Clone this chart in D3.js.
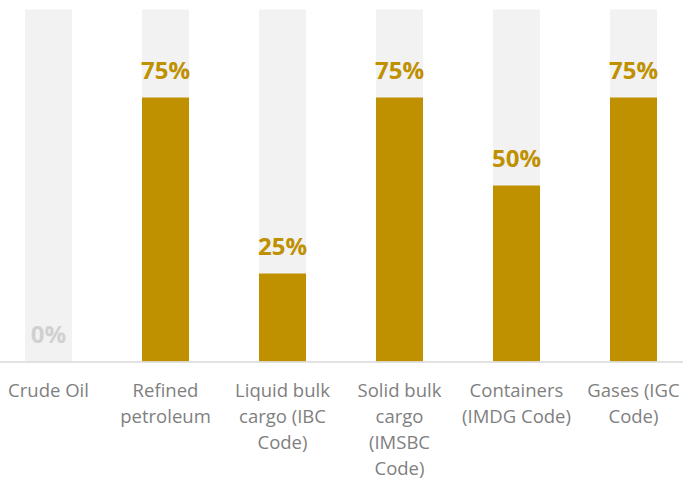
<!DOCTYPE html>
<html><head><meta charset="utf-8">
<script src="https://cdn.jsdelivr.net/npm/d3@7"></script>
<style>html,body{margin:0;padding:0;background:#fff;}svg{display:block;}</style>
</head><body>
<svg id="chart" width="683" height="482"></svg>
<script>
const categories = ["Crude Oil","Refined petroleum","Liquid bulk cargo (IBC Code)","Solid bulk cargo (IMSBC Code)","Containers (IMDG Code)","Gases (IGC Code)"];
const labelLines = [["Crude Oil"],["Refined","petroleum"],["Liquid bulk","cargo (IBC","Code)"],["Solid bulk","cargo","(IMSBC","Code)"],["Containers","(IMDG Code)"],["Gases (IGC","Code)"]];
const values = [0, 0.75, 0.25, 0.75, 0.5, 0.75];
const maxValues = [1, 1, 1, 1, 1, 1];

const svg = d3.select("#chart");
const x = d3.scaleBand().domain(categories).range([-10, 692]).paddingInner(0.598).paddingOuter(0.299);
const y = d3.scaleLinear().domain([0, 1]).range([361.5, 9.5]);

svg.selectAll("rect.bg").data(categories).join("rect").attr("class","bg")
  .attr("x", d => x(d)).attr("width", x.bandwidth())
  .attr("y", (d,i) => y(maxValues[i])).attr("height", (d,i) => y(0) - y(maxValues[i]))
  .attr("fill", "#f2f2f2");

svg.selectAll("rect.fg").data(categories).join("rect").attr("class","fg")
  .attr("x", d => x(d)).attr("width", x.bandwidth())
  .attr("y", (d,i) => y(values[i])).attr("height", (d,i) => y(0) - y(values[i]))
  .attr("fill", "#bf9000");

svg.append("line").attr("x1", 0).attr("x2", 683).attr("y1", y(0)+0.5).attr("y2", y(0)+0.5)
  .attr("stroke", "#d9d9d9").attr("stroke-width", 1.5);

svg.selectAll("text.val").data(categories).join("text").attr("class","val")
  .attr("x", d => x(d) + x.bandwidth()/2)
  .attr("y", (d,i) => y(values[i]) - 19)
  .attr("text-anchor","middle")
  .attr("font-family","'Open Sans', sans-serif").attr("font-weight","bold").attr("font-size","24px")
  .attr("fill", (d,i) => values[i] === 0 ? "#d0d0d0" : "#bf9000")
  .text((d,i) => d3.format(".0%")(values[i]));

const lab = svg.selectAll("text.cat").data(categories).join("text").attr("class","cat")
  .attr("text-anchor","middle")
  .attr("font-family","'Open Sans', sans-serif").attr("font-size","18.5px")
  .attr("fill","#7f7f7f");
lab.each(function(d,i){
  const t = d3.select(this);
  labelLines[i].forEach((ln,j) => {
    t.append("tspan").attr("x", x(d) + x.bandwidth()/2).attr("y", 397 + j*26).text(ln);
  });
});
</script>
</body></html>
